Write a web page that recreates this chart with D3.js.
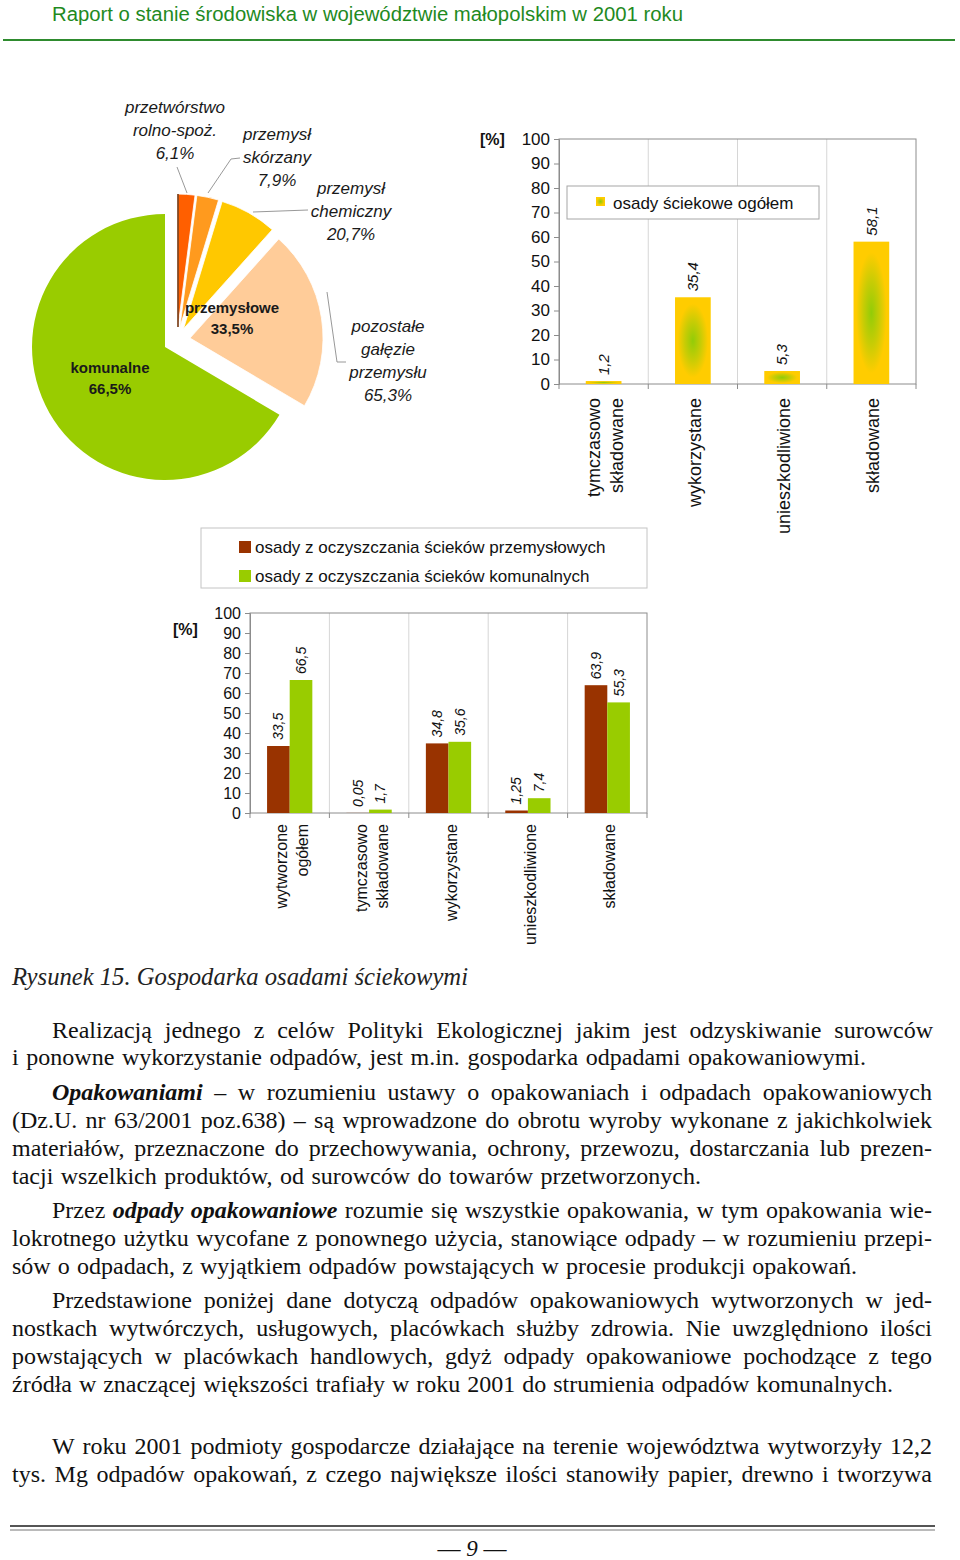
<!DOCTYPE html>
<html><head><meta charset="utf-8">
<script src="https://cdnjs.cloudflare.com/ajax/libs/d3/7.8.5/d3.min.js"></script>
<style>body{margin:0;background:#fff}</style>
</head><body>
<svg id="c" width="960" height="1560" xmlns="http://www.w3.org/2000/svg"></svg>
<script>
// ---------- DATA ----------
const pieMainNames = [["przemysłowe","33,5%"],["komunalne","66,5%"]];
const pieMainValues = [33.5, 66.5];
const pieSubNames = [["przetwórstwo","rolno-spoż.","6,1%"],["przemysł","skórzany","7,9%"],["przemysł","chemiczny","20,7%"],["pozostałe","gałęzie","przemysłu","65,3%"]];
const pieSubValues = [6.1, 7.9, 20.7, 65.3];

const topCats = [["tymczasowo","składowane"],["wykorzystane"],["unieszkodliwione"],["składowane"]];
const topValues = [1.2, 35.4, 5.3, 58.1];
const topSeriesName = "osady ściekowe ogółem";

const botCats = [["wytworzone","ogółem"],["tymczasowo","składowane"],["wykorzystane"],["unieszkodliwione"],["składowane"]];
const botIndustrial = [33.5, 0.05, 34.8, 1.25, 63.9];
const botMunicipal = [66.5, 1.7, 35.6, 7.4, 55.3];
const botSeriesNames = ["osady z oczyszczania ścieków przemysłowych","osady z oczyszczania ścieków komunalnych"];

const yTickValues = [0,10,20,30,40,50,60,70,80,90,100];

// ---------- SETUP ----------
const SANS = "'Liberation Sans', Arial, sans-serif";
const SERIF = "'Liberation Serif', 'Times New Roman', serif";
const svg = d3.select("#c");
svg.append("rect").attr("width",960).attr("height",1560).attr("fill","#fff");
const fmt = v => String(v).replace(".", ",");

const defs = svg.append("defs");
const rg = defs.append("radialGradient").attr("id","bargrad").attr("cx","50%").attr("cy","50%").attr("r","50%");
rg.append("stop").attr("offset","0%").attr("stop-color","#92cc08");
rg.append("stop").attr("offset","45%").attr("stop-color","#c8cc05");
rg.append("stop").attr("offset","85%").attr("stop-color","#ffcc00");
rg.append("stop").attr("offset","100%").attr("stop-color","#ffcc00");

// ---------- HEADER ----------
svg.append("text").attr("x",52).attr("y",21)
  .attr("font-family","'Liberation Sans Narrow', 'Arial Narrow', 'Liberation Sans', sans-serif")
  .attr("font-size",20).attr("fill","#1f8a1f")
  .attr("textLength",631).attr("lengthAdjust","spacingAndGlyphs")
  .text("Raport o stanie środowiska w województwie małopolskim w 2001 roku");
svg.append("line").attr("x1",3).attr("x2",955).attr("y1",40).attr("y2",40)
  .attr("stroke","#2e8b2e").attr("stroke-width",2);

// ---------- PIE ----------
const cx = 165, cy = 347, R = 133;
const pieG = svg.append("g");
const mainArcs = d3.pie().sort(null)(pieMainValues);
const arcGen = d3.arc().innerRadius(0).outerRadius(R);
pieG.append("path").attr("d", arcGen(mainArcs[1])).attr("fill","#99cc00")
  .attr("transform",`translate(${cx},${cy})`);
const ind = mainArcs[0];
const midI = (ind.startAngle + ind.endAngle) / 2;
const groupOff = 14, subOff = 13;
const subColors = ["#ff5f00","#ff9a1e","#ffc800","#ffcc99"];
const subArcs = d3.pie().sort(null).startAngle(ind.startAngle).endAngle(ind.endAngle)(pieSubValues);
subArcs.forEach((a, i) => {
  const m = (a.startAngle + a.endAngle) / 2;
  const ox = groupOff * Math.sin(midI) + subOff * Math.sin(m);
  const oy = -groupOff * Math.cos(midI) - subOff * Math.cos(m);
  pieG.append("path").attr("d", arcGen(a)).attr("fill", subColors[i])
    .attr("stroke","#fff").attr("stroke-width",0.8)
    .attr("transform",`translate(${cx+ox},${cy+oy})`);
  if (i === 0) {
    pieG.append("line").attr("x1",cx+ox).attr("y1",cy+oy)
      .attr("x2",cx+ox+R*Math.sin(a.startAngle)).attr("y2",cy+oy-R*Math.cos(a.startAngle))
      .attr("stroke","#6b2a00").attr("stroke-width",1.5);
  }
});
// leader lines
const leaders = [
  [[177,167],[187,193]],
  [[240,158],[231,159],[208,193]],
  [[308,210],[253,212]],
  [[327,292],[337,362],[346,362]]
];
leaders.forEach(p => pieG.append("path").attr("d", d3.line()(p)).attr("fill","none")
  .attr("stroke","#8c8c8c").attr("stroke-width",0.9));
// sub labels
const subLabelPos = [[175,113],[277,140],[351,194],[388,332]];
pieSubNames.forEach((lines, i) => {
  const t = pieG.append("text").attr("font-family",SANS).attr("font-style","italic")
    .attr("font-size",17).attr("fill","#1a1a1a").attr("text-anchor","middle");
  lines.forEach((l, j) => t.append("tspan").attr("x",subLabelPos[i][0]).attr("y",subLabelPos[i][1]+j*23).text(l));
});
const mainLabelPos = [[232,313],[110,373]];
pieMainNames.forEach((lines, i) => {
  const t = pieG.append("text").attr("font-family",SANS).attr("font-weight","bold")
    .attr("font-size",15).attr("fill","#1a1a1a").attr("text-anchor","middle");
  lines.forEach((l, j) => t.append("tspan").attr("x",mainLabelPos[i][0]).attr("y",mainLabelPos[i][1]+j*21).text(l));
});

// ---------- helper for frames ----------
function drawFrame(g, x, y, ticksFont) {
  const [x0,x1] = x.range(); const [y0,y1] = y.range();
  // gridlines at category boundaries
  const bounds = x.domain().map(d => x(d)).concat([x1]);
  bounds.slice(1,-1).forEach(b => g.append("line").attr("x1",b).attr("x2",b).attr("y1",y1).attr("y2",y0)
    .attr("stroke","#d6d6d6").attr("stroke-width",1));
  g.append("rect").attr("x",x0).attr("y",y1).attr("width",x1-x0).attr("height",y0-y1)
    .attr("fill","none").attr("stroke","#8c8c8c").attr("stroke-width",1);
  bounds.forEach(b => g.append("line").attr("x1",b).attr("x2",b).attr("y1",y0).attr("y2",y0+5)
    .attr("stroke","#8c8c8c"));
  const ax = g.append("g").attr("transform",`translate(${x0},0)`)
    .call(d3.axisLeft(y).tickValues(yTickValues).tickSize(5).tickPadding(4));
  ax.select(".domain").attr("stroke","#8c8c8c");
  ax.selectAll(".tick line").attr("stroke","#8c8c8c");
  ax.selectAll(".tick text").attr("font-family",SANS).attr("font-size",ticksFont).attr("fill","#111");
  return bounds;
}
function catLabels(g, x, cats, yTop, size, lh, off) {
  cats.forEach((lines, i) => {
    const c = x(i) + x.bandwidth()/2;
    lines.forEach((l, j) => {
      const bx = c + off + (j - (lines.length-1)/2) * lh;
      g.append("text").attr("transform",`translate(${bx},${yTop}) rotate(-90)`)
        .attr("text-anchor","end").attr("font-family",SANS).attr("font-size",size).attr("fill","#111").text(l);
    });
  });
}
function valueLabel(g, xc, yTop, v, size) {
  g.append("text").attr("transform",`translate(${xc},${yTop-6}) rotate(-90)`)
    .attr("dy","0.35em").attr("text-anchor","start").attr("font-family",SANS)
    .attr("font-style","italic").attr("font-size",size).attr("fill","#111").text(fmt(v));
}

// ---------- TOP BAR CHART ----------
const tG = svg.append("g");
const xT = d3.scaleBand().domain(d3.range(topValues.length)).range([559,916]);
const yT = d3.scaleLinear().domain([0,100]).range([384,139]);
drawFrame(tG, xT, yT, 17);
const twT = xT.bandwidth()*0.4;
tG.selectAll(".tb").data(topValues).join("rect")
  .attr("x",(d,i)=>xT(i)+xT.bandwidth()/2-twT/2).attr("width",twT)
  .attr("y",d=>yT(d)).attr("height",d=>yT(0)-yT(d)).attr("fill","url(#bargrad)");
topValues.forEach((v,i)=>valueLabel(tG, xT(i)+xT.bandwidth()/2, yT(v), v, 15));
catLabels(tG, xT, topCats, 398, 18, 23, 8);
tG.append("text").attr("x",480).attr("y",145).attr("font-family",SANS).attr("font-weight","bold")
  .attr("font-size",16).attr("fill","#111").text("[%]");
// legend
tG.append("rect").attr("x",567).attr("y",186).attr("width",252).attr("height",33)
  .attr("fill","#fff").attr("stroke","#a6a6a6");
tG.append("rect").attr("x",596).attr("y",197).attr("width",9).attr("height",9).attr("fill","url(#bargrad)");
tG.append("text").attr("x",613).attr("y",209).attr("font-family",SANS).attr("font-size",17)
  .attr("fill","#111").text(topSeriesName);

// ---------- BOTTOM LEGEND ----------
const lg = svg.append("g");
lg.append("rect").attr("x",201).attr("y",528).attr("width",446).attr("height",60)
  .attr("fill","#fff").attr("stroke","#c4c4c4");
const botColors = ["#993300","#99cc00"];
botSeriesNames.forEach((n,i)=>{
  lg.append("rect").attr("x",239).attr("y",541+i*29).attr("width",12).attr("height",12).attr("fill",botColors[i]);
  lg.append("text").attr("x",255).attr("y",553+i*29).attr("font-family",SANS).attr("font-size",17)
    .attr("fill","#111").text(n);
});

// ---------- BOTTOM BAR CHART ----------
const bG = svg.append("g");
const xB = d3.scaleBand().domain(d3.range(botCats.length)).range([250,647]);
const yB = d3.scaleLinear().domain([0,100]).range([813,613]);
drawFrame(bG, xB, yB, 16);
const bw = xB.bandwidth()*0.285;
[botIndustrial, botMunicipal].forEach((arr, s) => {
  bG.selectAll(".bb"+s).data(arr).join("rect")
    .attr("x",(d,i)=>xB(i)+xB.bandwidth()/2 + (s-1)*bw).attr("width",bw)
    .attr("y",d=>yB(d)).attr("height",d=>yB(0)-yB(d)).attr("fill",botColors[s]);
  arr.forEach((v,i)=>valueLabel(bG, xB(i)+xB.bandwidth()/2 + (s-0.5)*bw, yB(v), v, 14));
});
catLabels(bG, xB, botCats, 824, 16, 21, 8);
bG.append("text").attr("x",173).attr("y",635).attr("font-family",SANS).attr("font-weight","bold")
  .attr("font-size",16).attr("fill","#111").text("[%]");

// ---------- CAPTION ----------
svg.append("text").attr("x",12).attr("y",985).attr("font-family",SERIF).attr("font-style","italic")
  .attr("font-size",25).attr("fill","#222").attr("textLength",456).attr("lengthAdjust","spacingAndGlyphs")
  .text("Rysunek 15.  Gospodarka osadami ściekowymi");

// ---------- BODY TEXT ----------
const bodyLines = [
 [52,933,1038,[["Realizacją jednego z celów Polityki Ekologicznej jakim jest odzyskiwanie surowców","n"]]],
 [12,866,1065,[["i ponowne wykorzystanie odpadów, jest m.in. gospodarka odpadami opakowaniowymi.","n"]]],
 [52,932,1100,[["Opakowaniami","bi"],["– w rozumieniu ustawy o opakowaniach i odpadach opakowaniowych","n"]]],
 [12,932,1128,[["(Dz.U. nr 63/2001 poz.638) – są wprowadzone do obrotu wyroby wykonane z jakichkolwiek","n"]]],
 [12,932,1156,[["materiałów, przeznaczone do przechowywania, ochrony, przewozu, dostarczania lub prezen-","n"]]],
 [12,701,1184,[["tacji wszelkich produktów, od surowców do towarów przetworzonych.","n"]]],
 [52,932,1218,[["Przez","n"],["odpady opakowaniowe","bi"],["rozumie się wszystkie opakowania, w tym opakowania wie-","n"]]],
 [12,932,1246,[["lokrotnego użytku wycofane z ponownego użycia, stanowiące odpady – w rozumieniu przepi-","n"]]],
 [12,857,1274,[["sów o odpadach, z wyjątkiem odpadów powstających w procesie produkcji opakowań.","n"]]],
 [52,932,1308,[["Przedstawione poniżej dane dotyczą odpadów opakowaniowych wytworzonych w jed-","n"]]],
 [12,932,1336,[["nostkach wytwórczych, usługowych, placówkach służby zdrowia. Nie uwzględniono ilości","n"]]],
 [12,932,1364,[["powstających w placówkach handlowych, gdyż odpady opakowaniowe pochodzące z tego","n"]]],
 [12,893,1392,[["źródła w znaczącej większości trafiały w roku 2001 do strumienia odpadów komunalnych.","n"]]],
 [52,932,1454,[["W roku 2001 podmioty gospodarcze działające na terenie województwa wytworzyły 12,2","n"]]],
 [12,932,1482,[["tys. Mg odpadów opakowań, z czego największe ilości stanowiły papier, drewno i tworzywa","n"]]]
];
const txtG = svg.append("g");
bodyLines.forEach(([x0,x1,y,segs]) => {
  const g = txtG.append("g");
  const words = [];
  segs.forEach(([t,st]) => t.split(" ").filter(w=>w.length).forEach(w => words.push([w,st])));
  const els = words.map(([w,st]) => {
    const e = g.append("text").attr("y",y).attr("font-family",SERIF).attr("font-size",24).attr("fill","#111").text(w);
    if (st === "bi") e.attr("font-weight","bold").attr("font-style","italic");
    return e;
  });
  const widths = els.map(e => e.node().getComputedTextLength());
  const W = d3.sum(widths);
  const n = words.length - 1;
  const target = x1 - x0;
  let gap = (target - W) / n, scale = 1;
  if (gap < 4) { gap = 4; scale = target / (W + n*gap); }
  let cur = 0;
  els.forEach((e,i) => { e.attr("x", cur); cur += widths[i] + gap; });
  g.attr("transform", `translate(${x0},0) scale(${scale},1)`);
});

// ---------- FOOTER ----------
svg.append("line").attr("x1",10).attr("x2",935).attr("y1",1526).attr("y2",1526).attr("stroke","#555").attr("stroke-width",2.2);
svg.append("line").attr("x1",10).attr("x2",935).attr("y1",1530).attr("y2",1530).attr("stroke","#777").attr("stroke-width",1);
const ft = svg.append("text").attr("x",472).attr("y",1556).attr("text-anchor","middle")
  .attr("font-family",SERIF).attr("font-size",23).attr("fill","#111");
ft.append("tspan").text("— ");
ft.append("tspan").attr("font-style","italic").text("9");
ft.append("tspan").text(" —");
</script>
</body></html>
